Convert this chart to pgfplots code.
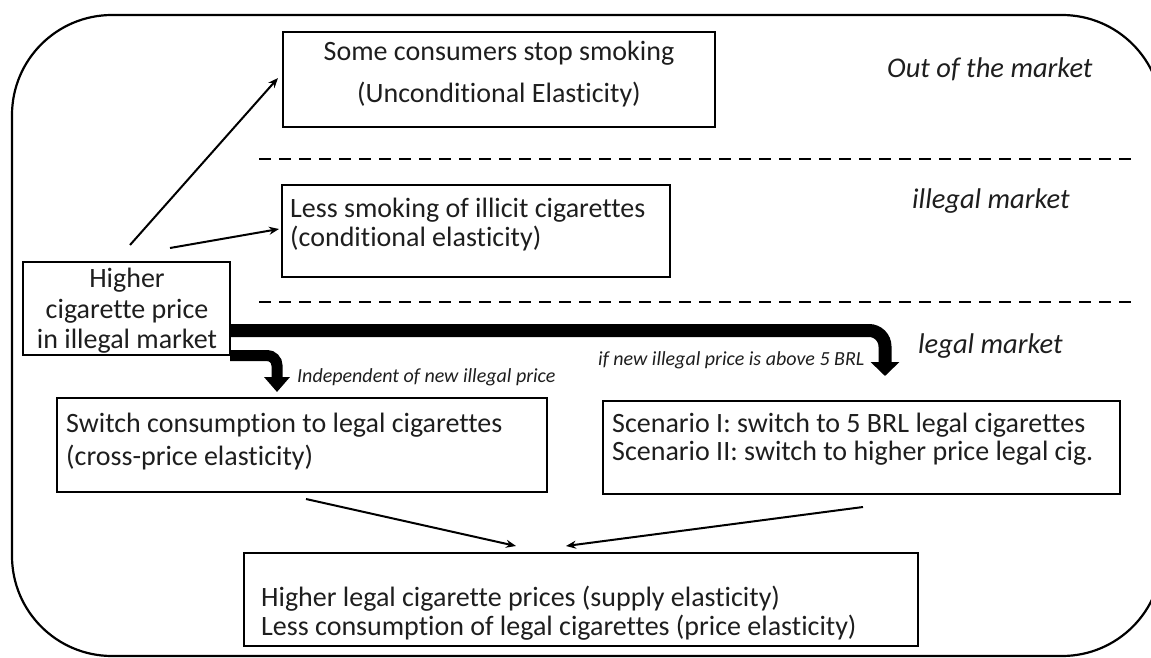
\documentclass[border=0pt]{standalone}
\usepackage{pgfplots}
\pgfplotsset{compat=1.18}
\usepackage{fontspec}
\setmainfont{Carlito}[Ligatures={NoCommon}]
\usetikzlibrary{arrows.meta}
\definecolor{txt}{HTML}{1E1E1E}
\begin{document}
\begin{tikzpicture}
\begin{axis}[width=1151pt,height=658pt,scale only axis,xmin=0,xmax=1151,ymin=0,ymax=658,y dir=reverse,hide axis,clip=false]
\addplot[draw=none] coordinates {(0,0) (1151,658)};
% outer rounded frame
\draw[line width=2.2pt,rounded corners=100pt] (12,15) rectangle (1162,656);
% dashed separators
\draw[line width=2pt,dash pattern=on 12pt off 8pt] (259,159) -- (1135,159);
\draw[line width=2pt,dash pattern=on 12pt off 8pt] (259,302) -- (1135,302);
% boxes
\tikzset{bx/.style={line width=2.5pt}}
\draw[bx] (283,32) rectangle (715,127);
\draw[bx] (282,185) rectangle (670,277);
\draw[bx] (23,262) rectangle (230,355);
\draw[bx] (57,398) rectangle (547,492);
\draw[bx] (603,401) rectangle (1120,494);
\draw[bx] (244,553) rectangle (918,646);
% box texts
\tikzset{t/.style={inner sep=0pt,text=txt,font=\fontsize{28}{32}\selectfont}}
\node[t,anchor=base] at (499,61) {Some consumers stop smoking};
\node[t,anchor=base] at (499,103) {(Unconditional Elasticity)};
\node[t,anchor=base west] at (290,217) {Less smoking of illicit cigarettes};
\node[t,anchor=base west] at (290,246) {(conditional elasticity)};
\node[t,anchor=base] at (127,287) {Higher};
\node[t,anchor=base] at (127,318) {cigarette price};
\node[t,anchor=base] at (127,348) {in illegal market};
\node[t,anchor=base west] at (66,432) {Switch consumption to legal cigarettes};
\node[t,anchor=base west] at (66,465) {(cross-price elasticity)};
\node[t,anchor=base west] at (612,432) {Scenario I: switch to 5 BRL legal cigarettes};
\node[t,anchor=base west] at (612,460) {Scenario II: switch to higher price legal cig.};
\node[t,anchor=base west] at (261,606) {Higher legal cigarette prices (supply elasticity)};
\node[t,anchor=base west] at (261,635) {Less consumption of legal cigarettes (price elasticity)};
% market labels
\tikzset{m/.style={inner sep=0pt,text=txt,font=\fontsize{28.5}{32}\selectfont\itshape}}
\node[m,anchor=base west] at (887,78) {Out of the market};
\node[m,anchor=base west] at (912,208) {illegal market};
\node[m,anchor=base west] at (918,353) {legal market};
% small italic labels
\tikzset{s/.style={inner sep=0pt,text=txt,font=\fontsize{20}{24}\selectfont\itshape}}
\node[s,anchor=base west] at (297,382) {Independent of new illegal price};
\node[s,anchor=base west] at (598,365) {if new illegal price is above 5 BRL};
% thin arrows
\tikzset{ar/.style={line width=2pt,-{Stealth[length=10pt,width=8pt]}}}
\draw[ar] (130,245) -- (278,78);
\draw[ar] (170,248) -- (279,229);
\draw[ar] (306,499) -- (516,546);
\draw[ar] (863,507) -- (566,546);
% thick arrows
\draw[line width=13pt,rounded corners=16pt,-{Triangle[length=14pt,width=28pt]}] (230,330.5) -- (885,330.5) -- (885,376);
\draw[line width=11pt,rounded corners=10pt,-{Triangle[length=15pt,width=25pt]}] (230,355.5) -- (277,355.5) -- (277,392);
\end{axis}
\pgfresetboundingbox
\path[use as bounding box] (current axis.south west) rectangle (current axis.north east);
\end{tikzpicture}
\end{document}
